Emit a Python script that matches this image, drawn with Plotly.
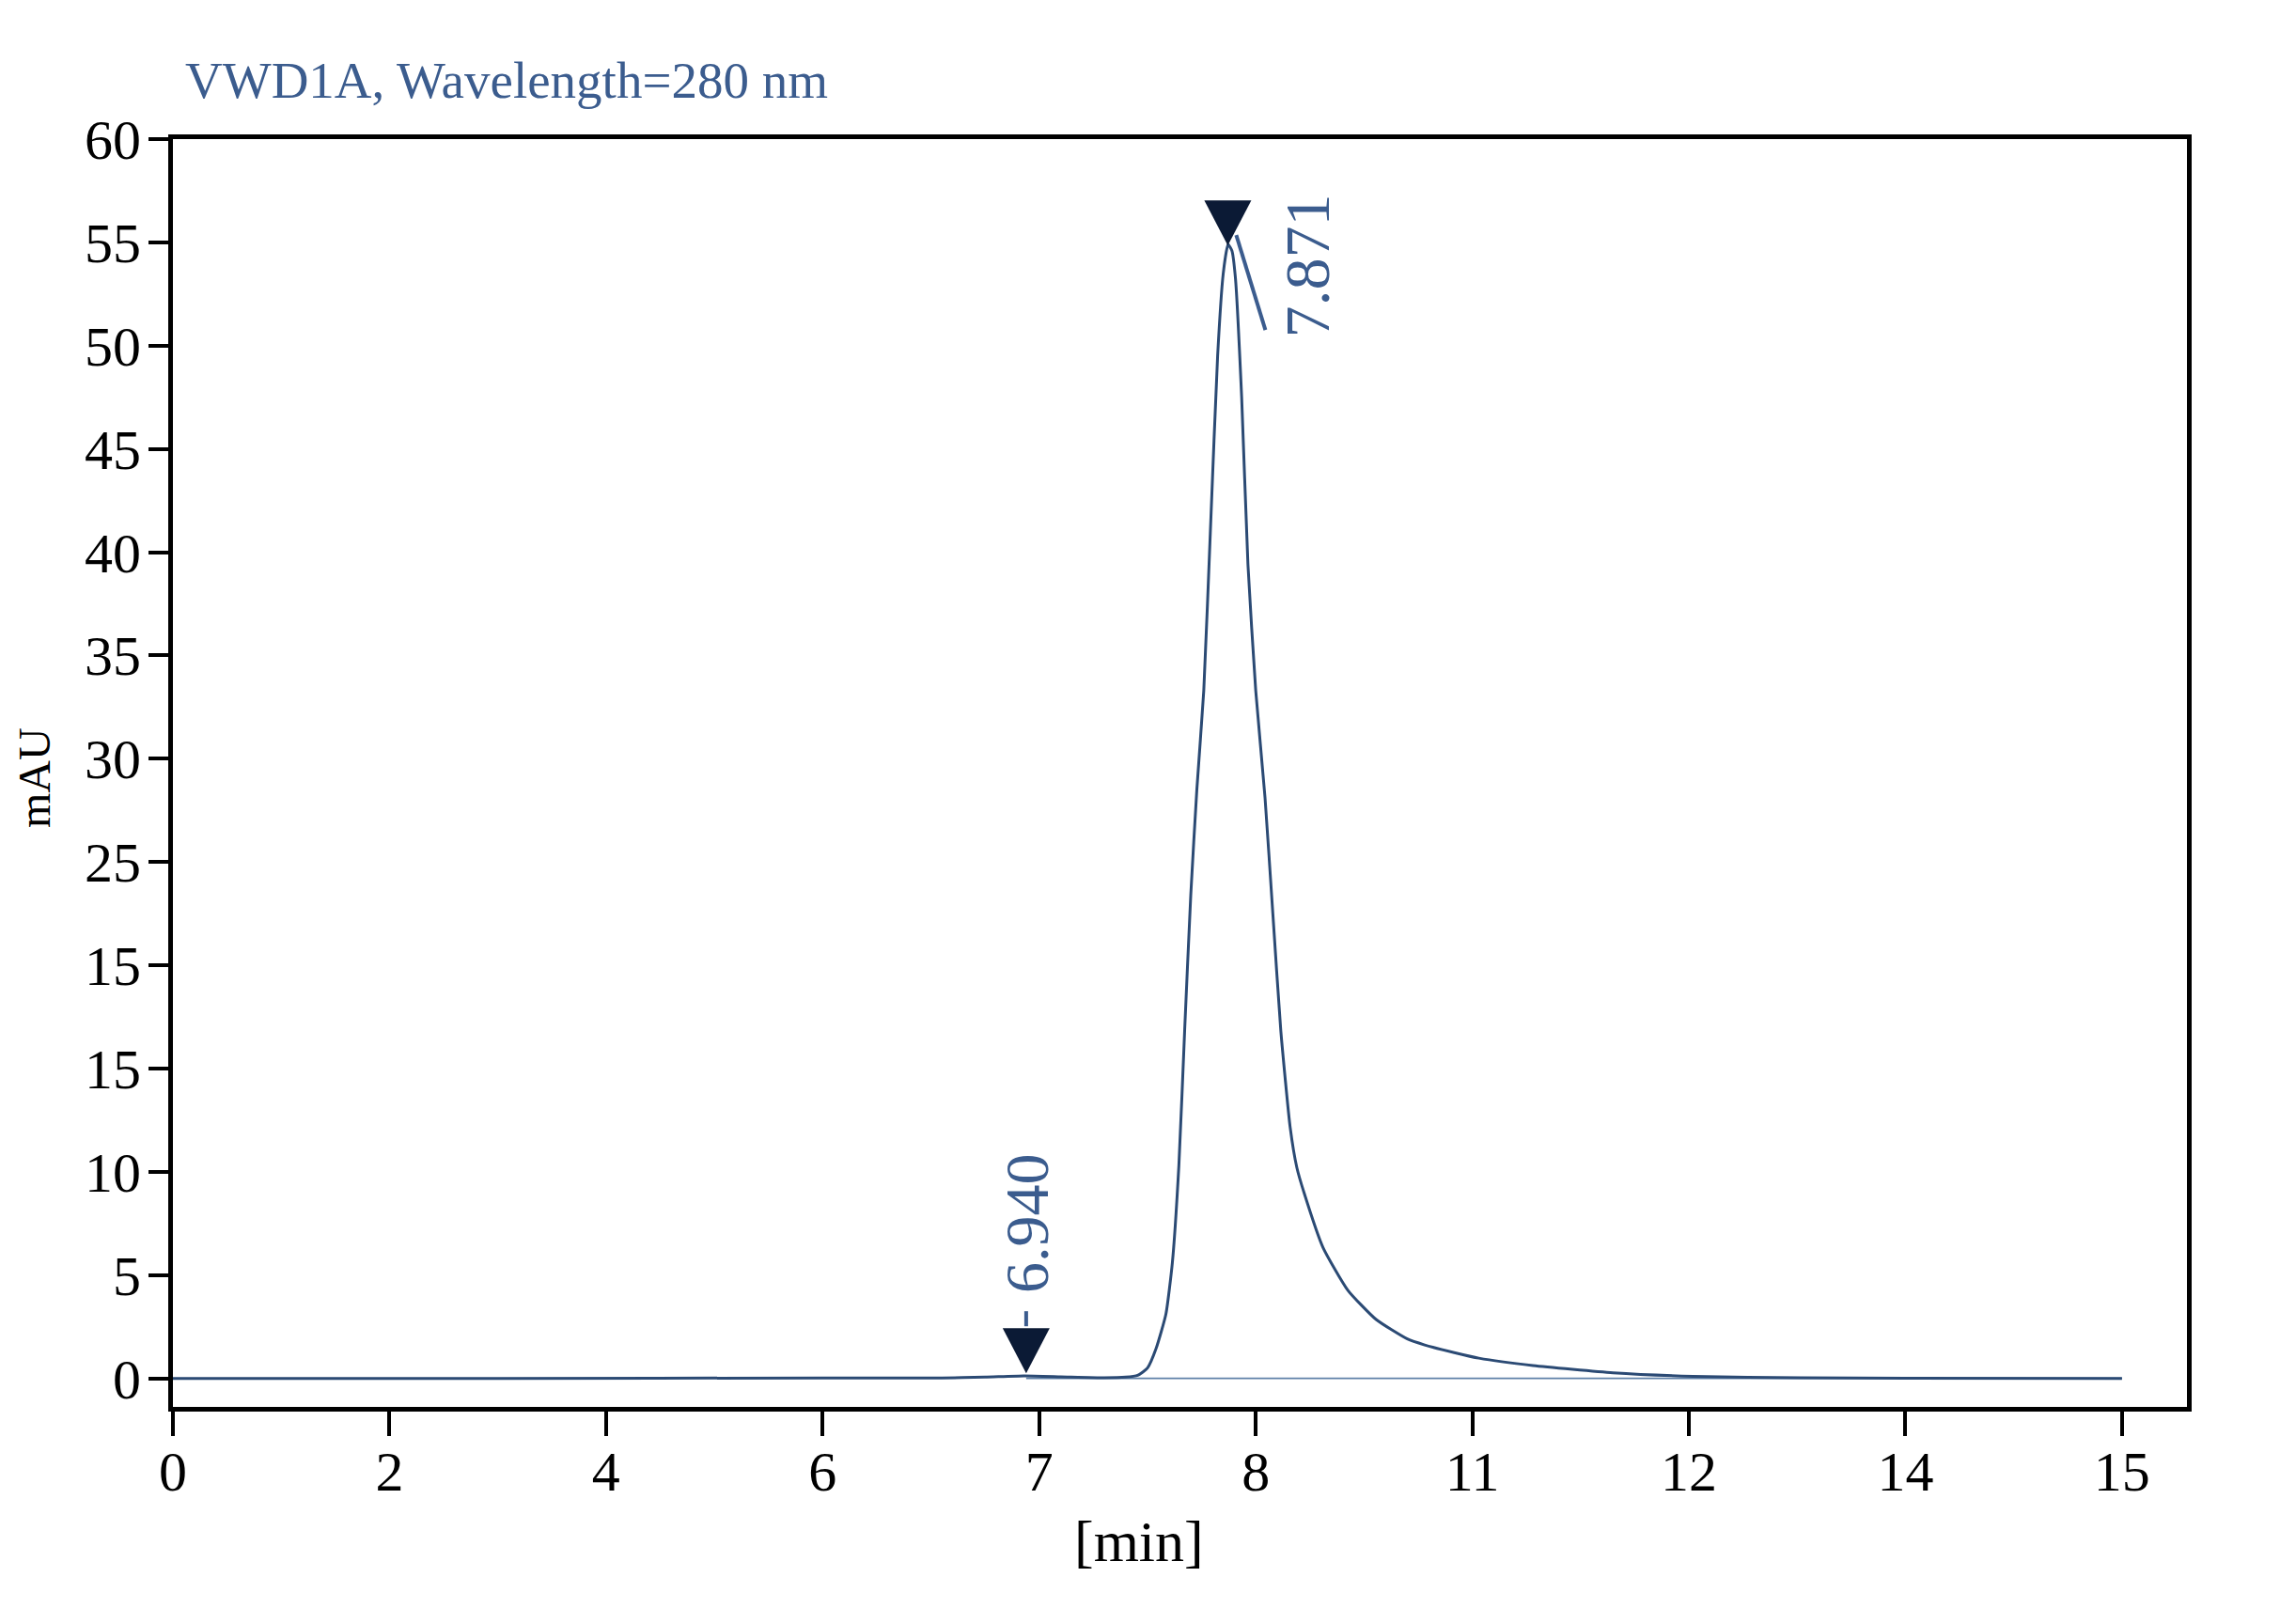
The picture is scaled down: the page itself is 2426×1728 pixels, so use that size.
import numpy as np
import plotly.graph_objects as go

# x axis of the original is not linear: evenly spaced ticks with these labels
tick_minutes = [0, 2, 4, 6, 7, 8, 11, 12, 14, 15]
y_ticks = [0, 5, 10, 15, 20, 25, 30, 35, 40, 45, 50, 55, 60]
y_tick_labels = ["0", "5", "10", "15", "15", "25", "30", "35", "40", "45", "50", "55", "60"]

# chromatogram trace (minutes, mAU)
time_min = [0.0, 3.0, 6.0, 6.55, 6.75, 6.93, 7.10, 7.30, 7.40, 7.455, 7.50, 7.54,
            7.585, 7.615, 7.645, 7.672, 7.700, 7.728, 7.760, 7.792, 7.824, 7.850,
            7.872, 7.890, 7.906, 7.935, 7.964, 8.0, 8.129, 8.237, 8.348, 8.477,
            8.57, 8.672, 8.933, 9.278, 9.668, 10.10, 10.34, 10.75, 11.03, 11.28,
            11.65, 12.04, 13.04, 14.0, 15.0]
signal_mau = [0.0, 0.0, 0.02, 0.02, 0.06, 0.12, 0.08, 0.03, 0.06, 0.15, 0.5, 1.45,
              3.1, 5.6, 10.3, 16.9, 23.4, 28.5, 33.3, 41.4, 49.5, 53.5,
              54.9, 54.6, 53.3, 47.5, 39.4, 33.3, 28.1, 22.5, 16.8, 12.15,
              10.2, 8.96, 6.33, 4.26, 2.85, 1.91, 1.62, 1.25, 0.98, 0.62,
              0.27, 0.1, 0.03, 0.01, 0.0]

peak_times = [6.940, 7.871]
peak_tips = [0.25, 54.85]
peak_labels = ["6.940", "7.871"]

baseline_start = 6.940
baseline_end = 15.0

title_text = "VWD1A, Wavelength=280 nm"

tick_pos = list(range(len(tick_minutes)))


def to_axis(t):
    return np.interp(t, tick_minutes, tick_pos)


serif = "Liberation Serif, Times New Roman, serif"
blue_text = "#3b5c8e"
curve_col = "#2b4a74"
mark_col = "#0b1a35"

fig = go.Figure()

# integration baseline
fig.add_trace(go.Scatter(
    x=to_axis([baseline_start, baseline_end]), y=[0, 0], mode="lines",
    line=dict(color="#5f80a8", width=1.6), hoverinfo="skip"))

fig.add_trace(go.Scatter(
    x=to_axis(time_min), y=signal_mau, mode="lines",
    line=dict(color=curve_col, width=3, shape="spline", smoothing=0.5)))

shapes = []
annotations = []
for t, h, lab in zip(peak_times, peak_tips, peak_labels):
    xp = float(to_axis(t))
    shapes.append(dict(type="path", xref="x", yref="y", xsizemode="pixel", ysizemode="pixel",
                       xanchor=xp, yanchor=h, path="M-25,48 L25,48 L0,0 Z",
                       fillcolor=mark_col, line=dict(width=0)))

# leader for the small peak: short vertical tick above the triangle
xp0 = float(to_axis(peak_times[0]))
shapes.append(dict(type="line", xref="x", yref="y", xsizemode="pixel", ysizemode="pixel",
                   xanchor=xp0, yanchor=peak_tips[0], x0=0, x1=0, y0=50, y1=66,
                   line=dict(color=blue_text, width=4)))
annotations.append(dict(x=xp0, y=peak_tips[0], xref="x", yref="y", text=peak_labels[0],
                        showarrow=False, textangle=-90, xanchor="center", yanchor="middle",
                        yshift=160, font=dict(family=serif, size=66, color=blue_text)))

# leader for the main peak: slanted line down-right
xp1 = float(to_axis(peak_times[1]))
shapes.append(dict(type="line", xref="x", yref="y", xsizemode="pixel", ysizemode="pixel",
                   xanchor=xp1, yanchor=peak_tips[1], x0=9, x1=40, y0=11, y1=-90,
                   line=dict(color=blue_text, width=4)))
annotations.append(dict(x=xp1, y=peak_tips[1], xref="x", yref="y", text=peak_labels[1],
                        showarrow=False, textangle=-90, xanchor="center", yanchor="middle",
                        xshift=85, yshift=-22, font=dict(family=serif, size=68, color=blue_text)))

annotations.append(dict(x=0.005, y=1.046, xref="paper", yref="paper", text=title_text,
                        showarrow=False, xanchor="left", yanchor="middle",
                        font=dict(family=serif, size=55, color=blue_text)))
annotations.append(dict(x=0.4797, y=-0.106, xref="paper", yref="paper", text="[min]",
                        showarrow=False, xanchor="center", yanchor="middle",
                        font=dict(family=serif, size=62, color="black")))
annotations.append(dict(x=-0.0685, y=0.496, xref="paper", yref="paper", text="mAU",
                        showarrow=False, textangle=-90, xanchor="center", yanchor="middle",
                        font=dict(family=serif, size=48, color="black")))

fig.update_layout(
    width=2426, height=1728,
    margin=dict(l=176, r=107, t=140, b=239),
    paper_bgcolor="white", plot_bgcolor="white",
    showlegend=False,
    shapes=shapes, annotations=annotations,
)
fig.update_xaxes(range=[0, 9.3], tickvals=tick_pos, ticktext=[str(m) for m in tick_minutes],
                 showgrid=False, zeroline=False, showline=True, mirror=True,
                 linecolor="black", linewidth=5, ticks="outside", ticklen=26, tickwidth=4,
                 tickcolor="black", ticklabelstandoff=-14,
                 tickfont=dict(family=serif, size=60, color="black"))
fig.update_yaxes(range=[-1.38, 60], tickvals=y_ticks, ticktext=y_tick_labels,
                 showgrid=False, zeroline=False, showline=True, mirror=True,
                 linecolor="black", linewidth=5, ticks="outside", ticklen=21, tickwidth=4,
                 tickcolor="black", ticklabelstandoff=-4,
                 tickfont=dict(family=serif, size=60, color="black"))

fig.write_html("out.html")
